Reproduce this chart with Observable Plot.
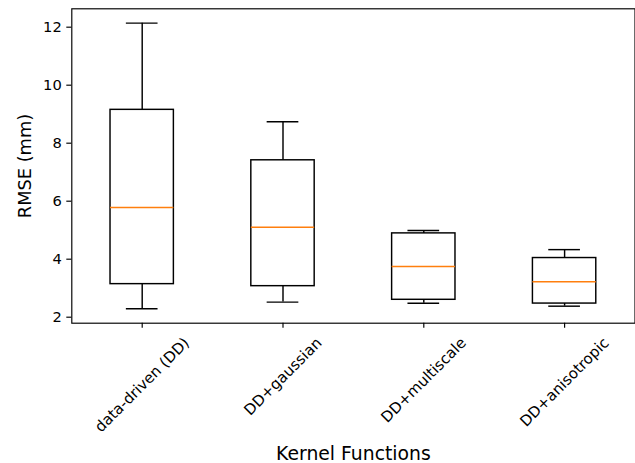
<!DOCTYPE html>
<html><head><meta charset="utf-8">
<script src="https://cdn.jsdelivr.net/npm/d3@7"></script>
<script src="https://cdn.jsdelivr.net/npm/@observablehq/plot@0.6"></script>
<style>body{margin:0;background:#fff;} svg{display:block;}</style>
</head><body><div id="chart"></div>
<script>
const categories = ["data-driven (DD)", "DD+gaussian", "DD+multiscale", "DD+anisotropic"];
const whiskerLow = [2.29, 2.52, 2.48, 2.38];
const q1 = [3.14, 3.07, 2.60, 2.47];
const median = [5.78, 5.10, 3.75, 3.22];
const q3 = [9.15, 7.41, 4.89, 4.04];
const whiskerHigh = [12.14, 8.74, 4.99, 4.33];
const yTicks = [2, 4, 6, 8, 10, 12];
const yLabel = "RMSE (mm)";
const xLabel = "Kernel Functions";

const positions = categories.map((_, i) => i + 1);
const rows = categories.map((c, i) => ({c, pos: i + 1, lo: whiskerLow[i], q1: q1[i], med: median[i], q3: q3[i], hi: whiskerHigh[i]}));
const boxHalf = 0.225, capHalf = 0.1125;
const lw = 1.45, spine = 1.16, yTickFs = 14.7, xTickFs = 15, yLabelFs = 17.8, xLabelFs = 18.8;

const chart = Plot.plot({
  width: 635, height: 463,
  marginLeft: 71.3, marginRight: 0.5, marginTop: 8.3, marginBottom: 140.3,
  style: {fontFamily: "DejaVu Sans", fontSize: "14.7px", background: "white", color: "black", overflow: "visible"},
  x: {domain: [0.5, 4.5], axis: null},
  y: {domain: [1.793, 12.634], axis: null},
  marks: [
    Plot.ruleX(rows, {x: "pos", y1: "q3", y2: "hi", stroke: "black", strokeWidth: lw}),
    Plot.ruleX(rows, {x: "pos", y1: "lo", y2: "q1", stroke: "black", strokeWidth: lw}),
    Plot.ruleY(rows, {y: "hi", x1: d => d.pos - capHalf, x2: d => d.pos + capHalf, stroke: "black", strokeWidth: lw}),
    Plot.ruleY(rows, {y: "lo", x1: d => d.pos - capHalf, x2: d => d.pos + capHalf, stroke: "black", strokeWidth: lw}),
    Plot.rect(rows, {x1: d => d.pos - boxHalf, x2: d => d.pos + boxHalf, y1: "q1", y2: "q3", fill: "none", stroke: "black", strokeWidth: lw}),
    Plot.ruleY(rows, {y: "med", x1: d => d.pos - boxHalf, x2: d => d.pos + boxHalf, stroke: "#ff7f0e", strokeWidth: lw}),
    Plot.frame({stroke: "black", strokeWidth: spine}),
    Plot.axisY({ticks: yTicks, tickSize: 5, tickPadding: 5, fontSize: yTickFs, label: null, strokeWidth: spine, tickFormat: d => String(d)}),
    Plot.axisX({ticks: positions, tickSize: 5, tickFormat: () => "", label: null, strokeWidth: spine}),
    Plot.text(rows, {x: "pos", text: "c", frameAnchor: "bottom", rotate: -45, textAnchor: "middle", lineAnchor: "middle", fontSize: xTickFs, fill: "black"}),
    Plot.text([yLabel], {text: d => d, frameAnchor: "left", dx: -46.8, rotate: -90, textAnchor: "middle", lineAnchor: "middle", fontSize: yLabelFs, fill: "black"}),
    Plot.text([xLabel], {text: d => d, frameAnchor: "bottom", dy: 130.5, textAnchor: "middle", lineAnchor: "middle", fontSize: xLabelFs, fill: "black"})
  ]
});
document.getElementById("chart").append(chart);
chart.querySelectorAll("text").forEach(t => {
  if (!categories.includes(t.textContent)) return;
  const L = t.getComputedTextLength();
  const H = xTickFs * 1.17;
  const shift = 11 + (L + H) * Math.SQRT1_2 / 2;
  const tr = t.getAttribute("transform") || "";
  t.setAttribute("transform", `translate(0,${shift}) ` + tr);
});
</script></body></html>
